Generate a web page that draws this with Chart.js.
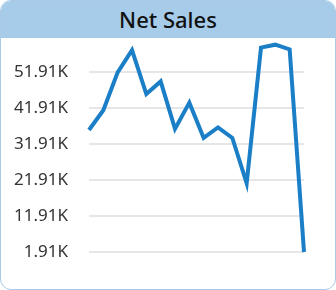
<!DOCTYPE html>
<html>
<head>
<meta charset="utf-8">
<script src="https://cdn.jsdelivr.net/npm/chart.js@4"></script>
<style>
  html, body { margin: 0; padding: 0; background: #ffffff; }
  #card {
    position: absolute; left: 0; top: 0; width: 334px; height: 288px;
    border: 1px solid #A9CBE8; border-radius: 11px; overflow: hidden; background: #fff;
  }
  #header {
    position: absolute; left: 0; top: 0; width: 334px; height: 37px;
    background: #A6CCEA; text-align: center;
    font-family: "Noto Sans", sans-serif; font-size: 22px; font-weight: 500;
    line-height: 36px; color: #111;
  }
  #wrap { position: absolute; left: 0; top: 38px; width: 336px; height: 252px; }
</style>
</head>
<body>
<div id="card"><div id="header">Net Sales</div></div>
<div id="wrap"><canvas id="c"></canvas></div>
<script>
const categories = ["P1","P2","P3","P4","P5","P6","P7","P8","P9","P10","P11","P12","P13","P14","P15","P16"];
const netSales = [35800, 41300, 51800, 58000, 45800, 49300, 36100, 43400, 33600, 36500, 33600, 21000, 58700, 59500, 58200, 1910];
const yTicks = [1910, 11910, 21910, 31910, 41910, 51910];

new Chart(document.getElementById('c'), {
  type: 'line',
  data: {
    labels: categories,
    datasets: [{
      data: netSales,
      borderColor: '#1A7FC6',
      borderWidth: 4,
      pointRadius: 0,
      tension: 0,
      fill: false,
      borderJoinStyle: 'miter',
      clip: false
    }]
  },
  options: {
    responsive: true,
    maintainAspectRatio: false,
    animation: false,
    layout: { padding: { left: 0, right: 32, top: 2, bottom: 38 } },
    plugins: { legend: { display: false }, tooltip: { enabled: false }, title: { display: false } },
    scales: {
      x: { display: false },
      y: {
        min: 1910, max: 60800,
        afterBuildTicks: axis => { axis.ticks = yTicks.map(v => ({ value: v })); },
        afterFit: s => { s.width = 89; s.paddingTop = 0; s.paddingBottom = 0; },
        border: { display: false },
        grid: { color: '#E6E6E6', lineWidth: 2, drawTicks: false },
        ticks: {
          padding: 21,
          color: '#333333',
          font: { family: 'Noto Sans', size: 17 },
          callback: v => (v / 1000).toFixed(2) + 'K'
        }
      }
    }
  }
});
</script>
</body>
</html>
